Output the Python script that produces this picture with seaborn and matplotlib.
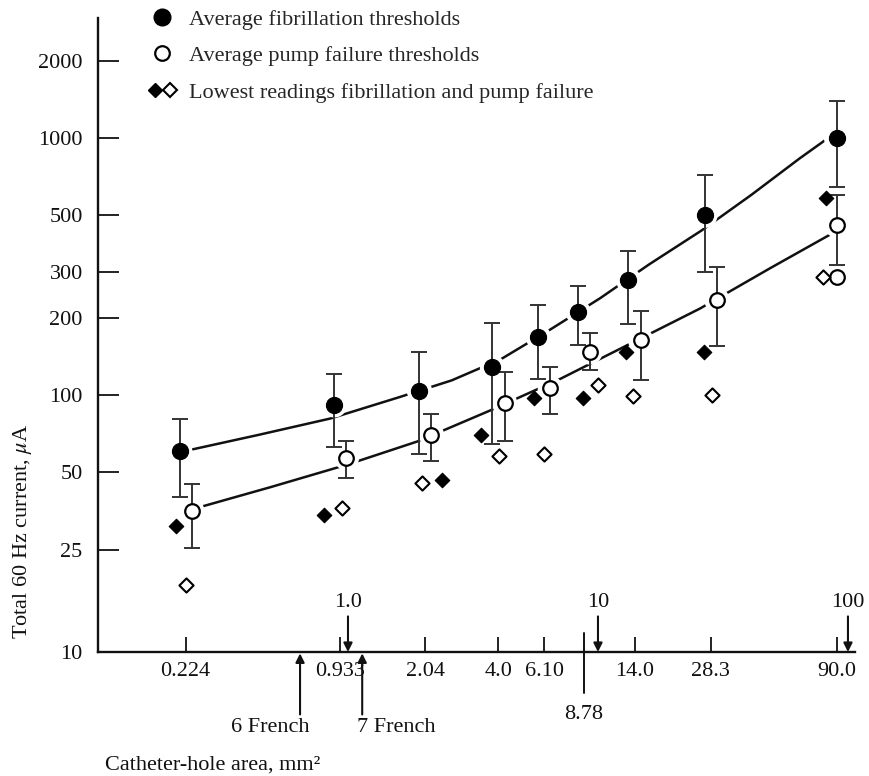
import numpy as np
import matplotlib
matplotlib.use("Agg")
import matplotlib.pyplot as plt
import matplotlib.transforms as mtransforms
from matplotlib.lines import Line2D
from matplotlib.legend_handler import HandlerTuple
import seaborn as sns

# catheter-hole areas (mm^2) used for the averages
area = np.array([0.224, 0.933, 2.04, 4.0, 6.10, 8.78, 14.0, 28.3, 90.0])
area_labels = ["0.224", "0.933", "2.04", "4.0", "6.10", "8.78", "14.0", "28.3", "90.0"]

# average fibrillation thresholds (uA) with error bar ends
fib_mean = np.array([60.5, 91.5, 104, 128, 168, 211, 280, 500, 1000])
fib_hi = np.array([81, 121, 147, 191, 224, 266, 364, 718, 1397])
fib_lo = np.array([40, 63, 59, 64.5, 115, 156, 189, 300, 646])

# average pump failure thresholds (uA) with error bar ends
pump_mean = np.array([35.5, 57, 70, 93, 106, 147, 164, 234, 459])
pump_hi = np.array([45, 66, 84, 123, 129, 174, 212, 316, 600])
pump_lo = np.array([25.5, 47.5, 55.5, 66, 84, 125, 114, 155, 321])

# lowest readings (diamonds), positions
low_fib_x = [0.206, 0.80, 2.37, 3.41, 5.55, 8.74, 13.0, 26.5, 81.7]
low_fib_y = [31, 34.2, 46.7, 70, 97, 97, 147, 147, 583]
low_pump_x = [0.225, 0.95, 1.97, 4.03, 6.08, 10.0, 13.8, 28.6, 79.3]
low_pump_y = [18.2, 36.4, 45.6, 58, 59, 109, 99, 100, 289]
extra_pump_x = [90.6]
extra_pump_y = [289]

# fitted curves
fib_curve_x = [0.24, 0.44, 0.85, 1.6, 2.6, 4.1, 6.4, 10.2, 16, 26, 41, 64, 83]
fib_curve_y = [61.5, 70, 81, 98, 114, 138, 179, 238, 322, 437, 600, 832, 997]
pump_curve_x = [0.26, 0.49, 1.0, 1.9, 3.7, 7.0, 13.4, 25.6, 49, 89]
pump_curve_y = [36.8, 43.8, 53.7, 66, 87, 115, 158, 217, 312, 432]

# axis annotations
y_ticks = [10, 25, 50, 100, 200, 300, 500, 1000, 2000]
decade_marks = [1.0, 10, 100]
decade_labels = ["1.0", "10", "100"]
french_x = [0.643, 1.14]
french_labels = ["6 French", "7 French"]
legend_labels = ["Average fibrillation thresholds",
                 "Average pump failure thresholds",
                 "Lowest readings fibrillation and pump failure"]

sns.set_style("ticks")
plt.rcParams['font.family'] = ['Liberation Serif', 'DejaVu Serif']
plt.rcParams['mathtext.fontset'] = 'stix'
plt.rcParams['font.size'] = 16

fig = plt.figure(figsize=(8.69, 7.76), dpi=100)
ax = fig.add_axes([98 / 869, 1 - 652 / 776, 757 / 869, 634 / 776])
ax.set_xscale('log')
ax.set_yscale('log')

# small horizontal dodge so the two circle series do not overlap
dodge = np.where(area > 50, 1.0, 1.057)
fib_x = area / dodge
pump_x = area * dodge

# curves
sns.lineplot(x=fib_curve_x, y=fib_curve_y, color='#111111', lw=1.8,
             estimator=None, sort=False, ax=ax, zorder=1)
sns.lineplot(x=pump_curve_x, y=pump_curve_y, color='#111111', lw=1.8,
             estimator=None, sort=False, ax=ax, zorder=1)

# white halo behind circles to break the curves
ax.scatter(np.r_[fib_x, pump_x], np.r_[fib_mean, pump_mean], s=330,
           color='white', edgecolor='none', zorder=2)

# error bars
ax.errorbar(fib_x, fib_mean, yerr=[fib_mean - fib_lo, fib_hi - fib_mean],
            fmt='none', ecolor='#333333', elinewidth=1.4, capsize=5.5,
            capthick=1.4, zorder=3)
ax.errorbar(pump_x, pump_mean, yerr=[pump_mean - pump_lo, pump_hi - pump_mean],
            fmt='none', ecolor='#333333', elinewidth=1.4, capsize=5.5,
            capthick=1.4, zorder=3)

# markers
sns.scatterplot(x=fib_x, y=fib_mean, marker='o', s=135, color='black',
                edgecolor='black', linewidth=0.8, ax=ax, zorder=4)
sns.scatterplot(x=pump_x, y=pump_mean, marker='o', s=110, color='white',
                edgecolor='black', linewidth=1.6, ax=ax, zorder=4)
sns.scatterplot(x=extra_pump_x, y=extra_pump_y, marker='o', s=110, color='white',
                edgecolor='black', linewidth=1.6, ax=ax, zorder=4)
sns.scatterplot(x=low_fib_x, y=low_fib_y, marker='D', s=55, color='black',
                edgecolor='black', linewidth=0.8, ax=ax, zorder=4)
sns.scatterplot(x=low_pump_x, y=low_pump_y, marker='D', s=52, color='white',
                edgecolor='black', linewidth=1.5, ax=ax, zorder=4)

ax.set_xlim(0.1, 106.7)
ax.set_ylim(10, 2930)

# axes styling
ax.spines[['top', 'right']].set_visible(False)
ax.spines[['left', 'bottom']].set_linewidth(1.7)
ax.spines[['left', 'bottom']].set_color('#111111')

tick_idx = [i for i, v in enumerate(area) if v != 8.78]
ax.set_xticks(area[tick_idx])
ax.set_xticklabels([area_labels[i] for i in tick_idx])
ax.set_yticks(y_ticks)
ax.set_yticklabels([str(v) for v in y_ticks])
ax.xaxis.set_minor_locator(matplotlib.ticker.NullLocator())
ax.yaxis.set_minor_locator(matplotlib.ticker.NullLocator())
ax.tick_params(axis='x', direction='in', length=11, width=1.3, pad=7,
               colors='#111111')
ax.tick_params(axis='y', direction='in', length=15, width=1.3, pad=11,
               colors='#111111')

# special 8.78 mark crossing the axis
trans = mtransforms.blended_transform_factory(ax.transData, ax.transAxes)
ax.plot([8.78, 8.78], [0.03, -0.065], transform=trans, color='#111111',
        lw=1.4, clip_on=False)
ax.text(8.78, -0.098, area_labels[5], transform=trans, ha='center',
        va='center', color='#111111')

# decade arrows pointing down to the axis
for xv, lab in zip(decade_marks, decade_labels):
    ax.annotate(lab, xy=(xv, 10), xytext=(0, 29), textcoords='offset points',
                ha='center', va='bottom', color='#111111',
                arrowprops=dict(arrowstyle='-|>', color='#111111', lw=1.5,
                                mutation_scale=13, shrinkA=1, shrinkB=0))

# French catheter sizes, arrows pointing up
for xv, lab, off, ha in zip(french_x, french_labels, [7, -4], ['right', 'left']):
    ax.annotate('', xy=(xv, 10), xytext=(0, -45), textcoords='offset points',
                arrowprops=dict(arrowstyle='-|>', color='#111111', lw=1.5,
                                mutation_scale=13, shrinkA=0, shrinkB=1))
    ax.annotate(lab, xy=(xv, 10), xytext=(off, -54), textcoords='offset points',
                ha=ha, va='center', color='#111111')

ax.set_ylabel(r'Total 60 Hz current, $\mu$A', color='#111111')
ax.yaxis.set_label_coords(-0.084, 0.19)
ax.set_xlabel('Catheter-hole area, mm²', color='#111111')
ax.xaxis.set_label_coords(0.152, -0.163)

# legend
h1 = Line2D([], [], ls='', marker='o', ms=12, mfc='black', mec='black')
h2 = Line2D([], [], ls='', marker='o', ms=10.5, mfc='white', mec='black', mew=1.6)
h3a = Line2D([], [], ls='', marker='D', ms=7.5, mfc='black', mec='black')
h3b = Line2D([], [], ls='', marker='D', ms=7.5, mfc='white', mec='black', mew=1.5)
ax.legend([h1, h2, (h3a, h3b)], legend_labels,
          handler_map={tuple: HandlerTuple(ndivide=None, pad=0)},
          loc='upper left', bbox_to_anchor=(148 / 869, 1 - 9 / 776),
          bbox_transform=fig.transFigure, frameon=False, borderpad=0,
          borderaxespad=0, handlelength=1.3, handletextpad=0.55,
          labelspacing=0.72, fontsize=16)

fig.savefig('out.png', dpi=100, facecolor='white')
